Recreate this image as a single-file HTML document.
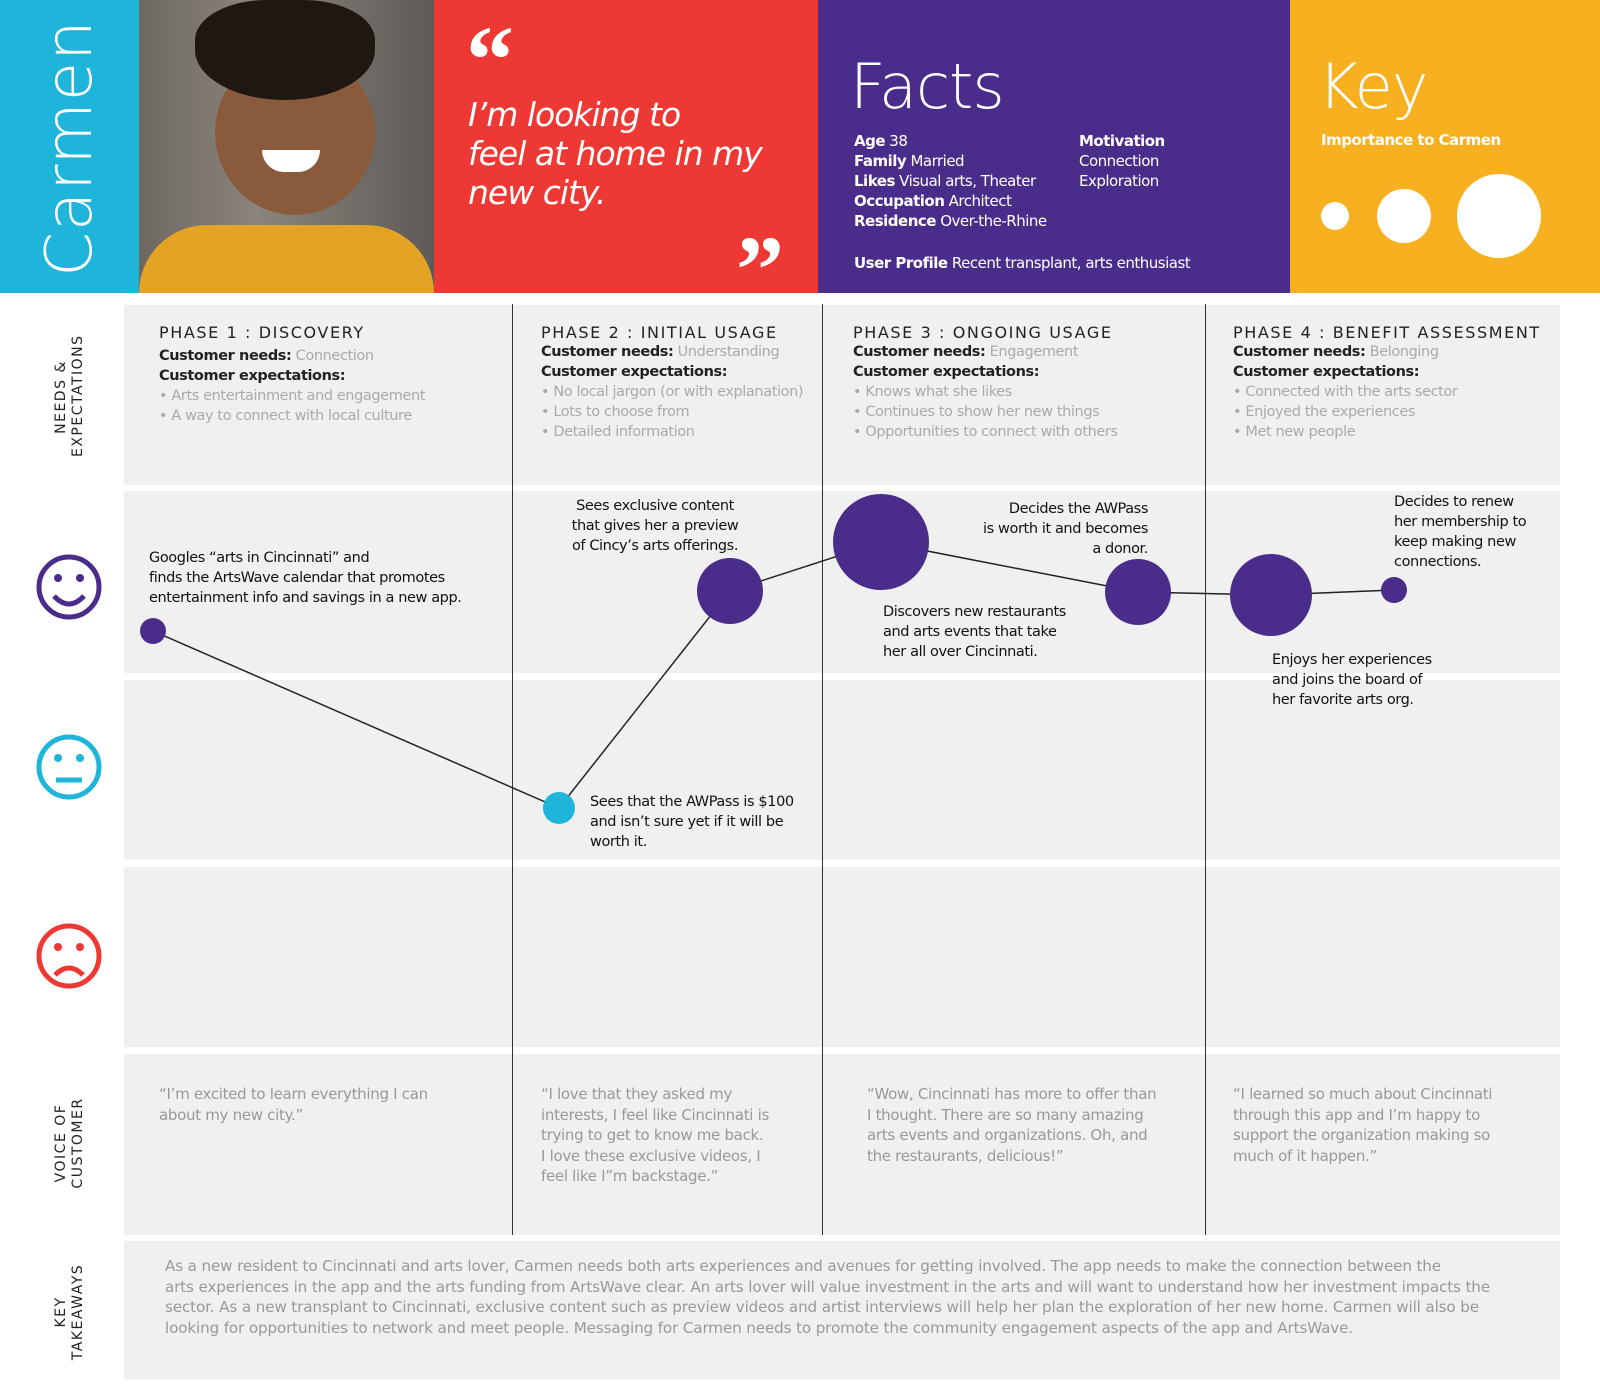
<!DOCTYPE html>
<html><head><meta charset="utf-8"><style>
*{margin:0;padding:0;box-sizing:border-box}
body{width:1600px;height:1397px;background:#fff;position:relative;overflow:hidden;font-family:"DejaVu Sans","Liberation Sans",sans-serif;}
.a{position:absolute}
.p{background:#f0f0f0;position:absolute}
.ph{font-size:16px;letter-spacing:1.6px;color:#222;font-weight:normal}
.t{font-size:14.5px;color:#aaa;line-height:20px;letter-spacing:-0.4px}
.t b{color:#222;font-weight:bold}
.n{font-size:14.5px;color:#111;line-height:20px;letter-spacing:-0.4px}
.v{font-size:15px;color:#999;line-height:20.5px;letter-spacing:-0.3px}
.lab{font-size:14px;letter-spacing:1.5px;color:#222;text-align:center;line-height:17px;transform:rotate(-90deg);white-space:nowrap}
</style></head><body>
<div class="a" style="left:0;top:0;width:139px;height:293px;background:#1fb4d9"></div>
<div class="a" style="left:-70px;top:118px;width:280px;height:60px;transform:rotate(-90deg);color:#fff;font-size:64px;font-weight:200;text-align:center;line-height:60px;letter-spacing:1px">Carmen</div>
<div class="a" style="left:139px;top:0;width:295px;height:293px;background:linear-gradient(90deg,#6e6862,#8a847d 40%,#5e5a56)"></div>
<div class="a" style="left:215px;top:50px;width:160px;height:165px;border-radius:50%;background:#8a5a3c"></div>
<div class="a" style="left:195px;top:0;width:180px;height:100px;border-radius:40% 40% 50% 50%;background:#1e1712"></div>
<div class="a" style="left:139px;top:225px;width:295px;height:68px;background:#e4a324;border-radius:70px 70px 0 0"></div>
<div class="a" style="left:262px;top:150px;width:58px;height:22px;border-radius:0 0 30px 30px;background:#fff"></div>
<div class="a" style="left:434px;top:0;width:384px;height:293px;background:#ee3833"></div>
<div class="a" style="left:466px;top:10px;color:#fff;font-size:96px;font-family:'Liberation Serif',serif;font-weight:bold;line-height:100px">“</div>
<div class="a" style="left:736px;top:220px;color:#fff;font-size:96px;font-family:'Liberation Serif',serif;font-weight:bold;line-height:100px">”</div>
<div class="a" style="left:468px;top:95px;color:#fff;font-size:33px;font-style:italic;font-weight:200;line-height:39px;letter-spacing:-1px">I’m looking to<br>feel at home in my<br>new city.</div>
<div class="a" style="left:818px;top:0;width:472px;height:293px;background:#4a2d8a"></div>
<div class="a" style="left:850px;top:50px;color:#fff;font-size:62px;font-weight:200;letter-spacing:-1px">Facts</div>
<div class="a" style="left:854px;top:131px;color:#fff;font-size:15px;line-height:20px;letter-spacing:-0.5px"><b>Age</b> 38<br><b>Family</b> Married<br><b>Likes</b> Visual arts, Theater<br><b>Occupation</b> Architect<br><b>Residence</b> Over-the-Rhine</div>
<div class="a" style="left:1079px;top:131px;color:#fff;font-size:15px;line-height:20px;letter-spacing:-0.5px"><b>Motivation</b><br>Connection<br>Exploration</div>
<div class="a" style="left:854px;top:253px;color:#fff;font-size:15px;line-height:20px;letter-spacing:-0.5px"><b>User Profile</b> Recent transplant, arts enthusiast</div>
<div class="a" style="left:1290px;top:0;width:310px;height:293px;background:#f7b020"></div>
<div class="a" style="left:1318px;top:50px;color:#fff;font-size:62px;font-weight:200;letter-spacing:-1px">Key</div>
<div class="a" style="left:1321px;top:131px;color:#fff;font-size:15px;font-weight:bold;letter-spacing:-0.5px">Importance to Carmen</div>
<div class="a" style="left:1321px;top:202px;width:28px;height:28px;border-radius:50%;background:#fff"></div>
<div class="a" style="left:1377px;top:189px;width:54px;height:54px;border-radius:50%;background:#fff"></div>
<div class="a" style="left:1457px;top:174px;width:84px;height:84px;border-radius:50%;background:#fff"></div>
<div class="p" style="left:124px;top:305px;width:1436px;height:180px"></div>
<div class="p" style="left:124px;top:491px;width:1436px;height:182px"></div>
<div class="p" style="left:124px;top:680px;width:1436px;height:180px"></div>
<div class="p" style="left:124px;top:867px;width:1436px;height:180px"></div>
<div class="p" style="left:124px;top:1054px;width:1436px;height:181px"></div>
<div class="p" style="left:124px;top:1241px;width:1436px;height:139px"></div>
<div class="a" style="left:512px;top:304px;width:1px;height:931px;background:#333"></div>
<div class="a" style="left:822px;top:304px;width:1px;height:931px;background:#333"></div>
<div class="a" style="left:1205px;top:304px;width:1px;height:931px;background:#333"></div>
<div class="a lab" style="left:10px;top:380px;width:120px">NEEDS &amp;<br>EXPECTATIONS</div>
<div class="a lab" style="left:10px;top:1126px;width:120px">VOICE OF<br>CUSTOMER</div>
<div class="a lab" style="left:10px;top:1295px;width:120px">KEY<br>TAKEAWAYS</div>
<svg class="a" style="left:0;top:0" width="1600" height="1397">
<g fill="none" stroke-width="5">
<circle cx="69" cy="587" r="30" stroke="#4a2d8a"/>
<circle cx="69" cy="767" r="30" stroke="#1fb4d9"/>
<circle cx="69" cy="956" r="30" stroke="#ee3833"/>
<path d="M54 596 Q69 612 84 596" stroke="#4a2d8a"/>
<path d="M56 780 H82" stroke="#1fb4d9"/>
<path d="M55 975 Q69 961 83 975" stroke="#ee3833"/>
</g>
<circle cx="58" cy="578" r="4" fill="#4a2d8a"/><circle cx="80" cy="578" r="4" fill="#4a2d8a"/>
<circle cx="58" cy="758" r="4" fill="#1fb4d9"/><circle cx="80" cy="758" r="4" fill="#1fb4d9"/>
<circle cx="58" cy="947" r="4" fill="#ee3833"/><circle cx="80" cy="947" r="4" fill="#ee3833"/>
<polyline points="153,631 559,808 730,591 881,542 1138,592 1271,595 1394,590" fill="none" stroke="#222" stroke-width="1.5"/>
<g fill="#4a2d8a">
<circle cx="153" cy="631" r="13"/>
<circle cx="730" cy="591" r="33"/>
<circle cx="881" cy="542" r="48"/>
<circle cx="1138" cy="592" r="33"/>
<circle cx="1271" cy="595" r="41"/>
<circle cx="1394" cy="590" r="13"/>
</g>
<circle cx="559" cy="808" r="16" fill="#1fb4d9"/>
</svg>
<div class="a" style="left:159px;top:323px"><div class="ph">PHASE 1 : DISCOVERY</div><div class="t" style="margin-top:4px"><b>Customer needs:</b> Connection<br><b>Customer expectations:</b><br>• Arts entertainment and engagement<br>• A way to connect with local culture</div></div>
<div class="a" style="left:541px;top:323px"><div class="ph">PHASE 2 : INITIAL USAGE</div><div class="t"><b>Customer needs:</b> Understanding<br><b>Customer expectations:</b><br>• No local jargon (or with explanation)<br>• Lots to choose from<br>• Detailed information</div></div>
<div class="a" style="left:853px;top:323px"><div class="ph">PHASE 3 : ONGOING USAGE</div><div class="t"><b>Customer needs:</b> Engagement<br><b>Customer expectations:</b><br>• Knows what she likes<br>• Continues to show her new things<br>• Opportunities to connect with others</div></div>
<div class="a" style="left:1233px;top:323px"><div class="ph">PHASE 4 : BENEFIT ASSESSMENT</div><div class="t"><b>Customer needs:</b> Belonging<br><b>Customer expectations:</b><br>• Connected with the arts sector<br>• Enjoyed the experiences<br>• Met new people</div></div>
<div class="a n" style="left:149px;top:548px">Googles “arts in Cincinnati” and<br>finds the ArtsWave calendar that promotes<br>entertainment info and savings in a new app.</div>
<div class="a n" style="left:540px;top:496px;text-align:center;width:230px">Sees exclusive content<br>that gives her a preview<br>of Cincy’s arts offerings.</div>
<div class="a n" style="left:590px;top:792px">Sees that the AWPass is $100<br>and isn’t sure yet if it will be<br>worth it.</div>
<div class="a n" style="left:940px;top:499px;width:208px;text-align:right">Decides the AWPass<br>is worth it and becomes<br>a donor.</div>
<div class="a n" style="left:883px;top:602px">Discovers new restaurants<br>and arts events that take<br>her all over Cincinnati.</div>
<div class="a n" style="left:1394px;top:492px">Decides to renew<br>her membership to<br>keep making new<br>connections.</div>
<div class="a n" style="left:1272px;top:650px">Enjoys her experiences<br>and joins the board of<br>her favorite arts org.</div>
<div class="a v" style="left:159px;top:1084px">“I’m excited to learn everything I can<br>about my new city.”</div>
<div class="a v" style="left:541px;top:1084px">“I love that they asked my<br>interests, I feel like Cincinnati is<br>trying to get to know me back.<br>I love these exclusive videos, I<br>feel like I”m backstage.”</div>
<div class="a v" style="left:867px;top:1084px">“Wow, Cincinnati has more to offer than<br>I thought. There are so many amazing<br>arts events and organizations. Oh, and<br>the restaurants, delicious!”</div>
<div class="a v" style="left:1233px;top:1084px">“I learned so much about Cincinnati<br>through this app and I’m happy to<br>support the organization making so<br>much of it happen.”</div>
<div class="a v" style="left:165px;top:1256px;width:1400px;font-size:15.2px;letter-spacing:-0.15px;white-space:nowrap">As a new resident to Cincinnati and arts lover, Carmen needs both arts experiences and avenues for getting involved. The app needs to make the connection between the<br>arts experiences in the app and the arts funding from ArtsWave clear. An arts lover will value investment in the arts and will want to understand how her investment impacts the<br>sector. As a new transplant to Cincinnati, exclusive content such as preview videos and artist interviews will help her plan the exploration of her new home. Carmen will also be<br>looking for opportunities to network and meet people. Messaging for Carmen needs to promote the community engagement aspects of the app and ArtsWave.</div>
</body></html>
